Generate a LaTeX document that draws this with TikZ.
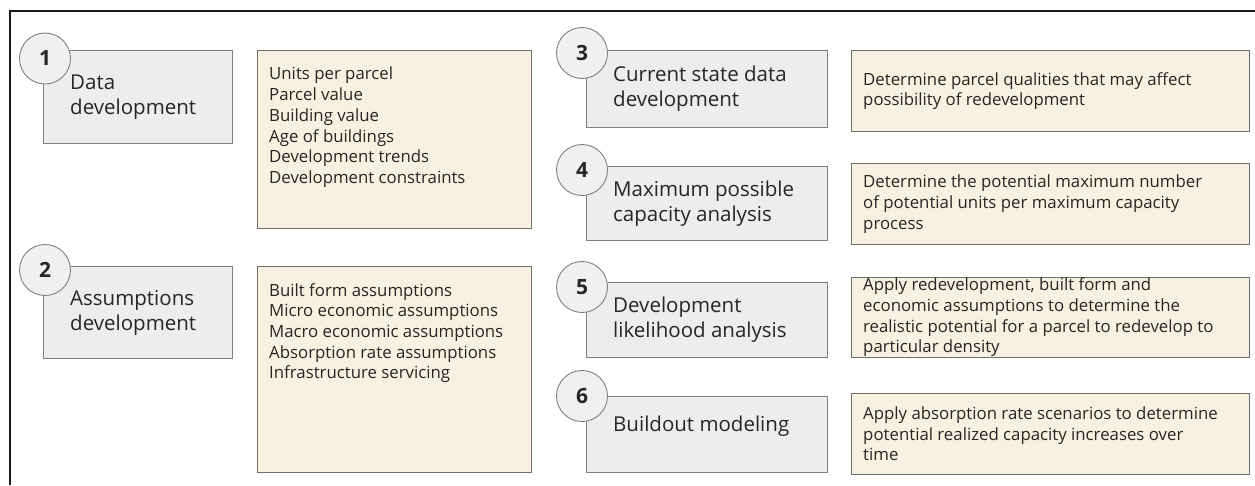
\documentclass[tikz,border=0pt]{standalone}
\usepackage{fontspec}
\setmainfont{Open Sans}
\definecolor{grayfill}{HTML}{EDEDED}
\definecolor{grayline}{HTML}{7F7F7F}
\definecolor{beige}{HTML}{F7F1E1}
\definecolor{beigeline}{HTML}{6E6E6E}
\definecolor{circfill}{HTML}{F0F0F0}
\definecolor{txt}{HTML}{262626}
\tikzset{
  graybox/.style={draw=grayline, fill=grayfill, line width=0.9pt, inner sep=0pt, anchor=north west},
  notebox/.style={draw=beigeline, fill=beige, line width=0.9pt, inner sep=0pt, anchor=north west},
  numcirc/.style={circle, draw=grayline, fill=circfill, line width=0.9pt, minimum size=51pt, inner sep=0pt, font=\fontsize{21}{24}\selectfont\bfseries, text=txt},
  steptext/.style={anchor=west, align=left, inner sep=0pt, font=\fontsize{20.5}{25}\selectfont, text=txt},
  listtext/.style={anchor=north west, align=left, inner sep=0pt, font=\fontsize{16.8}{20.7}\selectfont, text=txt},
  desctext/.style={anchor=west, align=left, inner sep=0pt, font=\fontsize{16.8}{20.7}\selectfont, text=txt},
}
\begin{document}
\begin{tikzpicture}[x=1pt,y=-1pt]
\useasboundingbox (0,0) rectangle (1255,485);
\fill[white] (0,0) rectangle (1255,485);
\draw[line width=2pt, black!90] (10,485) -- (10,11) -- (1255,11);
% left column
\node[graybox, minimum width=189pt, minimum height=93pt] (b1) at (43,50) {};
\node[graybox, minimum width=189pt, minimum height=92pt] (b2) at (43,266) {};
\node[notebox, minimum width=274pt, minimum height=178pt] (y1) at (257,50) {};
\node[notebox, minimum width=274pt, minimum height=206pt] (y2) at (257,266) {};
% right column
\node[graybox, minimum width=241pt, minimum height=77pt] (b3) at (586,50) {};
\node[graybox, minimum width=241pt, minimum height=74pt] (b4) at (586,166) {};
\node[graybox, minimum width=241pt, minimum height=75pt] (b5) at (586,282) {};
\node[graybox, minimum width=241pt, minimum height=76pt] (b6) at (586,396) {};
\node[notebox, minimum width=398pt, minimum height=81pt] (y3) at (851,50) {};
\node[notebox, minimum width=398pt, minimum height=81pt] (y4) at (851,163) {};
\node[notebox, minimum width=398pt, minimum height=80pt] (y5) at (851,277) {};
\node[notebox, minimum width=398pt, minimum height=81pt] (y6) at (851,393) {};
% step texts
\node[steptext] (s1) at ([xshift=27pt,yshift=0pt]b1.west) {Data\\development};
\node[steptext] (s2) at ([xshift=27pt]b2.west) {Assumptions\\development};
\node[steptext] (s3) at ([xshift=27pt]b3.west) {Current state data\\development};
\node[steptext] (s4) at ([xshift=27pt]b4.west) {Maximum possible\\capacity analysis};
\node[steptext] (s5) at ([xshift=27pt]b5.west) {Development\\likelihood analysis};
\node[steptext] (s6) at ([xshift=27pt,yshift=8pt]b6.west) {Buildout modeling};
% list texts
\node[listtext] (l1) at ([xshift=12pt,yshift=-17pt]y1.north west) {Units per parcel\\Parcel value\\Building value\\Age of buildings\\Development trends\\Development constraints};
\node[listtext] (l2) at ([xshift=12pt,yshift=-17pt]y2.north west) {Built form assumptions\\Micro economic assumptions\\Macro economic assumptions\\Absorption rate assumptions\\Infrastructure servicing};
% descriptions
\node[desctext] (d3) at ([xshift=12pt]y3.west) {Determine parcel qualities that may affect\\possibility of redevelopment};
\node[desctext] (d4) at ([xshift=12pt]y4.west) {Determine the potential maximum number\\of potential units per maximum capacity\\process};
\node[desctext] (d5) at ([xshift=12pt]y5.west) {Apply redevelopment, built form and\\economic assumptions to determine the\\realistic potential for a parcel to redevelop to\\particular density};
\node[desctext] (d6) at ([xshift=12pt]y6.west) {Apply absorption rate scenarios to determine\\potential realized capacity increases over\\time};
% number circles
\node[numcirc] (c1) at (45,58.5) {1};
\node[numcirc] (c2) at (45,270) {2};
\node[numcirc] (c3) at (582,53) {3};
\node[numcirc] (c4) at (582,170) {4};
\node[numcirc] (c5) at (582,287) {5};
\node[numcirc] (c6) at (582,396) {6};
\end{tikzpicture}
\end{document}
